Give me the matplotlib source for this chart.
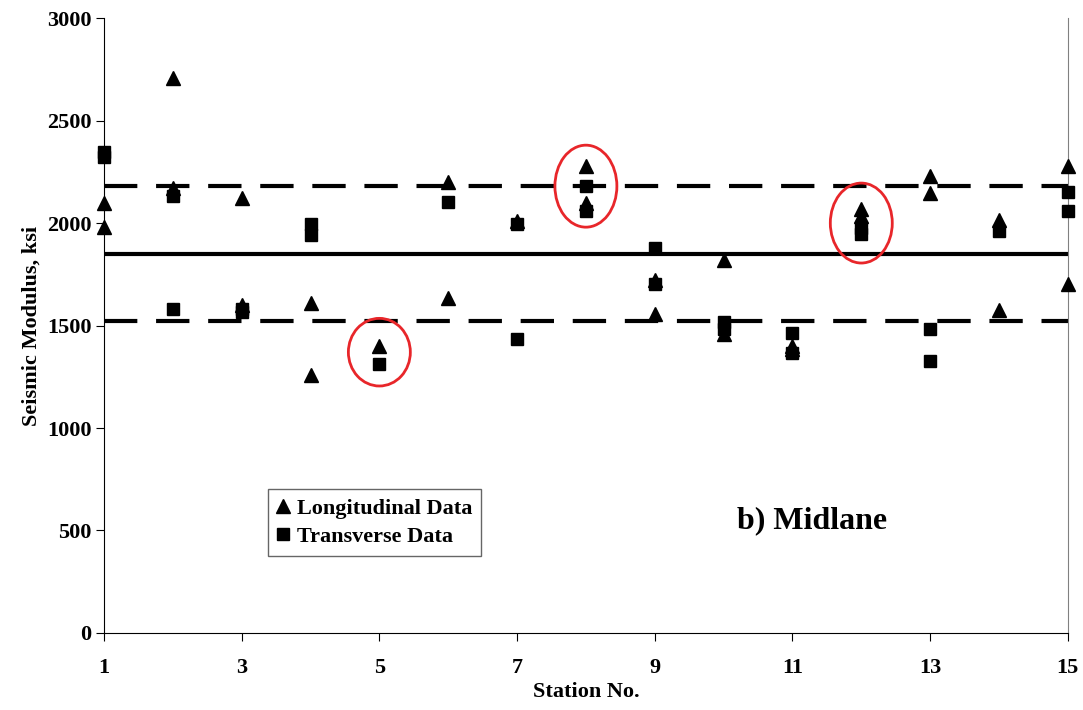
import numpy as np
import matplotlib.pyplot as plt
from matplotlib.patches import Ellipse

plt.rcParams['font.family'] = ['Liberation Serif', 'DejaVu Serif']
plt.rcParams['font.weight'] = 'bold'

# Longitudinal data (station, modulus ksi)
long_station = [1, 1, 2, 2, 3, 3, 4, 4, 5, 6, 6, 7, 8, 8, 9, 9, 10, 10,
                11, 11, 12, 12, 13, 13, 14, 14, 15, 15]
long_modulus = [2100, 1980, 2710, 2170, 2120, 1600, 1610, 1260, 1400, 2200, 1635, 2010,
                2280, 2100, 1720, 1555, 1820, 1460, 1400, 1385, 2070, 2035,
                2230, 2145, 2015, 1575, 2280, 1705]

# Transverse data
trans_station = [1, 1, 2, 2, 3, 3, 4, 4, 5, 6, 7, 7, 8, 8, 9, 9, 10, 10,
                 11, 11, 12, 12, 13, 13, 14, 15, 15]
trans_modulus = [2345, 2320, 2130, 1580, 1580, 1565, 1995, 1940, 1310, 2105, 1995, 1435,
                 2180, 2060, 1880, 1705, 1515, 1485, 1465, 1365, 1975, 1945,
                 1485, 1325, 1960, 2150, 2060]

mean_value = 1850
upper_limit = 2180
lower_limit = 1520

# circled stations (center modulus)
circle_station = [5, 8, 12]
circle_modulus = [1370, 2180, 2000]
circle_height = [330, 400, 390]

fig = plt.figure(figsize=(10.83, 7.10), dpi=100)
ax = fig.add_axes([0.096, 0.1085, 0.89, 0.866])

ax.plot([1, 15], [mean_value, mean_value], color='black', lw=3, solid_capstyle='butt')
for v in (upper_limit, lower_limit):
    ax.plot([1, 15], [v, v], color='black', lw=3, dashes=(8, 4.5), dash_capstyle='butt')

ax.plot(long_station, long_modulus, '^', color='black', ms=10, clip_on=False,
        label='Longitudinal Data', zorder=3)
ax.plot(trans_station, trans_modulus, 's', color='black', ms=8, clip_on=False,
        label='Transverse Data', zorder=3)

for s, m, h in zip(circle_station, circle_modulus, circle_height):
    ax.add_patch(Ellipse((s, m), 0.9, h, fill=False, edgecolor='#e8262a', lw=2, zorder=4))

ax.set_xlim(1, 15)
ax.set_ylim(0, 3000)
ax.set_xticks(np.arange(1, 16, 2))
ax.set_yticks(np.arange(0, 3001, 500))
ax.tick_params(direction='out', length=6, labelsize=16, pad=3)
ax.tick_params(axis='x', pad=12)
for lab in ax.get_xticklabels() + ax.get_yticklabels():
    lab.set_fontweight('bold')
ax.spines['top'].set_visible(False)
ax.spines['right'].set_color('#808080')
ax.set_xlabel('Station No.', fontsize=16, fontweight='bold', labelpad=3)
ax.set_ylabel('Seismic Modulus, ksi', fontsize=16, fontweight='bold', labelpad=4)

leg = ax.legend(loc='lower left', bbox_to_anchor=(0.170, 0.125), frameon=True,
                fancybox=False, edgecolor='#404040', fontsize=16, handlelength=0.6,
                handletextpad=0.3, borderpad=0.4, labelspacing=0.35, borderaxespad=0)
leg.get_frame().set_linewidth(1)

ax.text(11.28, 550, 'b) Midlane', fontsize=23, fontweight='bold',
        ha='center', va='center')

fig.savefig('out.png', dpi=100)
